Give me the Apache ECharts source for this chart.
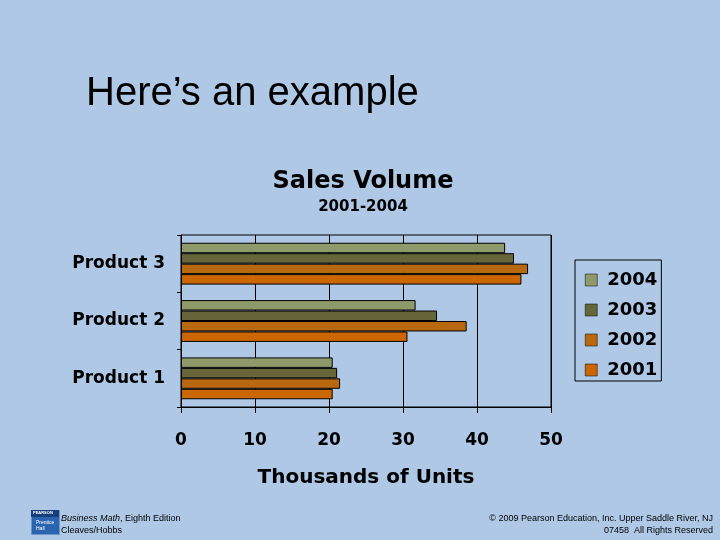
<!DOCTYPE html>
<html><head><meta charset="utf-8">
<script src="https://cdn.jsdelivr.net/npm/echarts@6/dist/echarts.min.js"></script>
<style>html,body{margin:0;padding:0;background:#AEC8E6;}#c{width:720px;height:540px;}</style>
</head><body><div id="c"></div>
<script>
const categories = ['Product 1', 'Product 2', 'Product 3'];
const years = ['2004', '2003', '2002', '2001'];
const v2004 = [20.5, 31.7, 43.8];
const v2003 = [21.1, 34.6, 45.0];
const v2002 = [21.5, 38.6, 46.9];
const v2001 = [20.5, 30.6, 46.0];
const xTicks = [0, 10, 20, 30, 40, 50];
const colors = ['#8F9A6B', '#66663A', '#B8690F', '#CC6600'];
const values = [v2004, v2003, v2002, v2001];
const F = '"Liberation Sans", Arial, sans-serif';
const B = '"DejaVu Sans", sans-serif';

const chart = echarts.init(document.getElementById('c'), null, {renderer: 'canvas'});
chart.setOption({
  backgroundColor: '#AEC8E6',
  animation: false,
  color: colors,
  title: [
    {text: 'Here\u2019s an example', left: 81, top: 69, textStyle: {fontFamily: F, fontWeight: 'normal', fontSize: 40, color: '#000'}},
    {text: 'Sales Volume', left: 358, top: 165, textAlign: 'center', textStyle: {fontFamily: B, fontWeight: 'bold', fontSize: 24, color: '#000'}},
    {text: '2001-2004', left: 358, top: 195, textAlign: 'center', textStyle: {fontFamily: B, fontWeight: 'bold', fontSize: 15, color: '#000'}}
  ],
  legend: {
    data: years,
    orient: 'vertical',
    left: 575, top: 260,
    width: 86,
    padding: [10, 4, 1, 10],
    borderColor: '#000', borderWidth: 1,
    itemWidth: 12, itemHeight: 12, itemGap: 10,
    icon: 'rect',
    itemStyle: {borderColor: '#000', borderWidth: 0.5},
    textStyle: {fontFamily: B, fontWeight: 'bold', fontSize: 18, color: '#000', lineHeight: 20, padding: [0,0,0,5]}
  },
  grid: {left: 181, right: 169, top: 235, bottom: 133, show: true, borderColor: '#000', borderWidth: 1, backgroundColor: 'transparent'},
  xAxis: {
    type: 'value', min: 0, max: 50, interval: 10,
    name: 'Thousands of Units', nameLocation: 'middle', nameGap: 61,
    nameTextStyle: {fontFamily: B, fontWeight: 'bold', fontSize: 20, color: '#000'},
    axisLine: {show: true, lineStyle: {color: '#000', width: 1}},
    axisTick: {show: true, length: 6, lineStyle: {color: '#000'}},
    axisLabel: {margin: 25, fontFamily: B, fontWeight: 'bold', fontSize: 17, color: '#000',
      formatter: v => xTicks.includes(v) ? String(v) : ''},
    splitLine: {show: true, lineStyle: {color: '#000', width: 1}}
  },
  yAxis: {
    type: 'category', data: categories,
    axisLine: {show: true, lineStyle: {color: '#000', width: 1}},
    axisTick: {show: true, length: 4, lineStyle: {color: '#000'}},
    axisLabel: {margin: 16, fontFamily: B, fontWeight: 'bold', fontSize: 17, color: '#000'},
    splitLine: {show: false}
  },
  series: years.map((y, i) => ({
    name: y, type: 'bar', data: values[i],
    barGap: '0%', barCategoryGap: '27%',
    itemStyle: {color: colors[i], borderColor: '#000', borderWidth: 1}
  })),
  graphic: [
    {type: 'rect', left: 31, top: 510, shape: {width: 28, height: 24}, style: {fill: '#2A64AE', stroke: '#6F95C8', lineWidth: 1}},
    {type: 'rect', left: 31, top: 510, shape: {width: 28, height: 7}, style: {fill: '#163F7A'}},
    {type: 'text', left: 33, top: 511, style: {text: 'PEARSON', fill: '#fff', font: 'bold 4px ' + F}},
    {type: 'text', left: 36, top: 520, style: {text: 'Prentice\nHall', fill: '#fff', font: '5px ' + F, lineHeight: 6}},
    {type: 'text', left: 61, top: 514, style: {rich: {i: {font: 'italic 9px ' + F, fill: '#000'}, n: {font: '9px ' + F, fill: '#000'}}, text: '{i|Business Math}{n|, Eighth Edition}'}},
    {type: 'text', left: 61, top: 526, style: {text: 'Cleaves/Hobbs', font: '9px ' + F, fill: '#000'}},
    {type: 'text', right: 7, top: 514, style: {text: '\u00A9 2009 Pearson Education, Inc. Upper Saddle River, NJ', font: '9px ' + F, fill: '#000', align: 'right'}},
    {type: 'text', right: 7, top: 526, style: {text: '07458  All Rights Reserved', font: '9px ' + F, fill: '#000', align: 'right'}}
  ]
});
</script></body></html>
